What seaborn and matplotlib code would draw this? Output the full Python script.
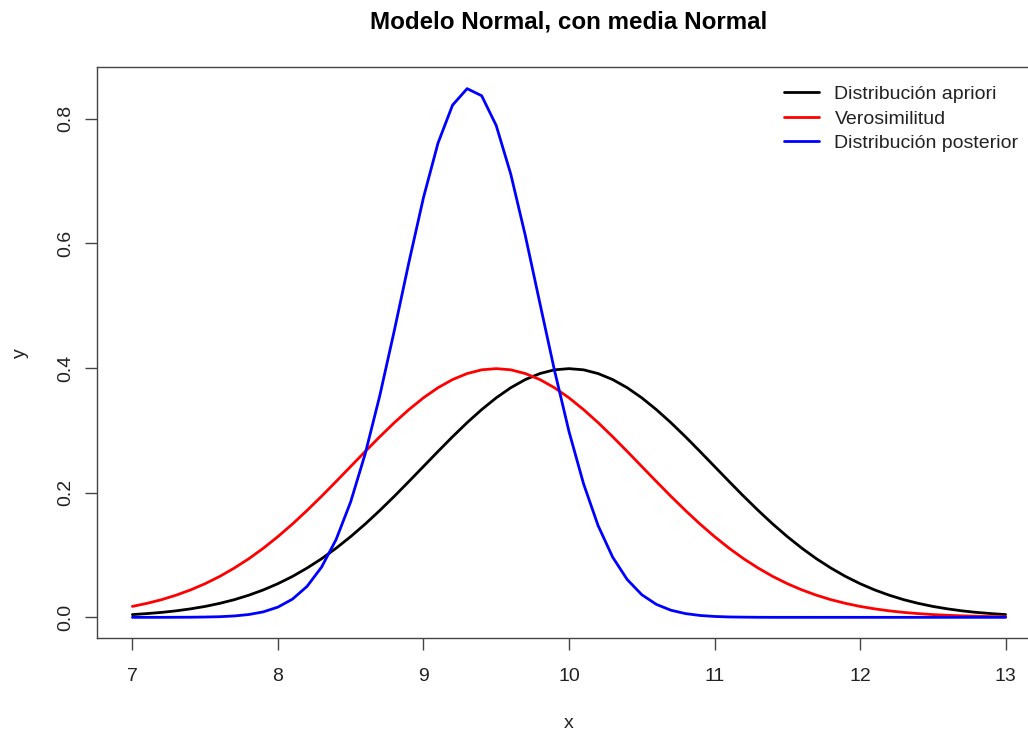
import numpy as np
import pandas as pd
import matplotlib
matplotlib.use("Agg")
import matplotlib.pyplot as plt
import seaborn as sns

# Grid of x values (7 to 13, step 0.1)
x_vals = [round(7.0 + 0.1 * i, 1) for i in range(61)]

# Prior density, N(10, 1)
prior = [
    0.0044, 0.0060, 0.0079, 0.0104, 0.0136, 0.0175, 0.0224, 0.0283, 0.0355, 0.0440,
    0.0540, 0.0656, 0.0790, 0.0940, 0.1109, 0.1295, 0.1497, 0.1714, 0.1942, 0.2179,
    0.2420, 0.2661, 0.2897, 0.3123, 0.3332, 0.3521, 0.3683, 0.3814, 0.3910, 0.3970,
    0.3989,
    0.3970, 0.3910, 0.3814, 0.3683, 0.3521, 0.3332, 0.3123, 0.2897, 0.2661, 0.2420,
    0.2179, 0.1942, 0.1714, 0.1497, 0.1295, 0.1109, 0.0940, 0.0790, 0.0656, 0.0540,
    0.0440, 0.0355, 0.0283, 0.0224, 0.0175, 0.0136, 0.0104, 0.0079, 0.0060, 0.0044,
]

# Likelihood, centred at 9.5
likelihood = [
    0.0175, 0.0224, 0.0283, 0.0355, 0.0440, 0.0540, 0.0656, 0.0790, 0.0940, 0.1109,
    0.1295, 0.1497, 0.1714, 0.1942, 0.2179, 0.2420, 0.2661, 0.2897, 0.3123, 0.3332,
    0.3521, 0.3683, 0.3814, 0.3910, 0.3970, 0.3989, 0.3970, 0.3910, 0.3814, 0.3683,
    0.3521, 0.3332, 0.3123, 0.2897, 0.2661, 0.2420, 0.2179, 0.1942, 0.1714, 0.1497,
    0.1295, 0.1109, 0.0940, 0.0790, 0.0656, 0.0540, 0.0440, 0.0355, 0.0283, 0.0224,
    0.0175, 0.0136, 0.0104, 0.0079, 0.0060, 0.0044, 0.0033, 0.0024, 0.0017, 0.0012,
    0.0009,
]

# Posterior density
posterior = [
    0.0000, 0.0000, 0.0000, 0.0001, 0.0002, 0.0005, 0.0010, 0.0022, 0.0045, 0.0088,
    0.0164, 0.0292, 0.0496, 0.0806, 0.1249, 0.1853, 0.2626, 0.3556, 0.4603, 0.5694,
    0.6732, 0.7607, 0.8216, 0.8480, 0.8366, 0.7888, 0.7108, 0.6122, 0.5038, 0.3964,
    0.2980, 0.2142, 0.1471, 0.0965, 0.0606, 0.0363, 0.0208, 0.0114, 0.0060, 0.0030,
    0.0014, 0.0006, 0.0003, 0.0001, 0.0000, 0.0000, 0.0000, 0.0000, 0.0000, 0.0000,
    0.0000, 0.0000, 0.0000, 0.0000, 0.0000, 0.0000, 0.0000, 0.0000, 0.0000, 0.0000,
    0.0000,
]

series_names = ["Distribución apriori", "Verosimilitud", "Distribución posterior"]
series_colors = ["black", "red", "blue"]

df = pd.concat(
    [
        pd.DataFrame({"x": x_vals, "y": vals, "curva": name})
        for name, vals in zip(series_names, [prior, likelihood, posterior])
    ],
    ignore_index=True,
)

sns.set_style("ticks")
plt.rcParams["font.family"] = ["Liberation Sans", "DejaVu Sans"]

fig = plt.figure(figsize=(10.28, 7.36), dpi=100)
ax = fig.add_axes([0.0948, 0.1325, 0.9174, 0.7758])

sns.lineplot(
    data=df, x="x", y="y", hue="curva", hue_order=series_names,
    palette=dict(zip(series_names, series_colors)),
    linewidth=2.0, ax=ax, legend=True, sort=False,
)

xmin, xmax = 7.0, 13.0
ymin, ymax = 0.0, max(posterior)
xpad = (xmax - xmin) * 0.04
ypad = (ymax - ymin) * 0.04
ax.set_xlim(xmin - xpad, xmax + xpad)
ax.set_ylim(ymin - ypad, ymax + ypad)

ax.set_xticks([7, 8, 9, 10, 11, 12, 13])
ax.set_yticks([0.0, 0.2, 0.4, 0.6, 0.8])
ax.set_yticklabels(["0.0", "0.2", "0.4", "0.6", "0.8"], rotation=90, va="center")

for s in ax.spines.values():
    s.set_visible(True)
    s.set_color("#444444")
    s.set_linewidth(1.0)

ax.tick_params(axis="both", direction="out", length=8.5, width=1.0,
               color="#444444", labelsize=14, labelcolor="#222222")
ax.tick_params(axis="x", pad=13)
ax.tick_params(axis="y", pad=8.5)

ax.set_xlabel("x", fontsize=14, labelpad=21, color="#222222")
ax.set_ylabel("y", fontsize=14, labelpad=20, color="#222222")
ax.set_title("Modelo Normal, con media Normal", fontsize=17.4, fontweight="bold",
             pad=28, color="black")

leg = ax.legend(
    loc="upper left", bbox_to_anchor=(766 / 1028, 1 - 68 / 736),
    bbox_transform=fig.transFigure, frameon=False, fontsize=14,
    handlelength=1.85, handletextpad=0.77, labelspacing=0.35,
    title=None,
)
for line in leg.get_lines():
    line.set_linewidth(2.0)
for t in leg.get_texts():
    t.set_color("#222222")

fig.savefig("out.png", dpi=100)
